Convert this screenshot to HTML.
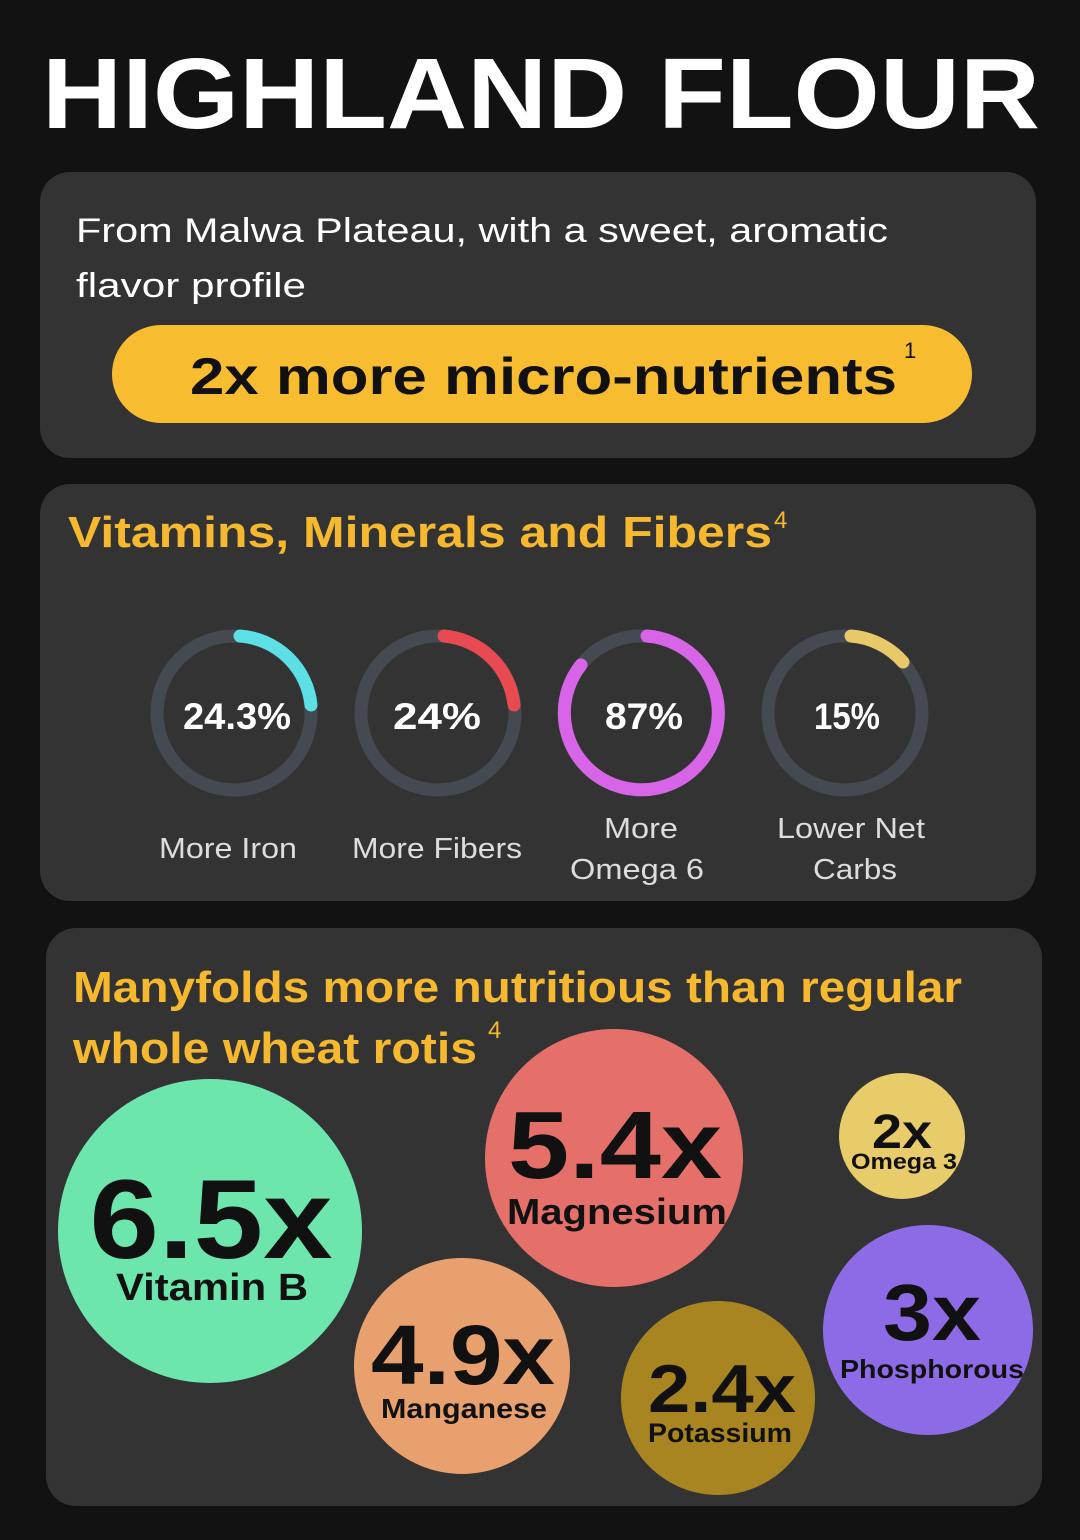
<!DOCTYPE html>
<html><head><meta charset="utf-8"><style>
html,body{margin:0;padding:0;background:#121212;}
svg{display:block;}
text{font-family:"Liberation Sans",sans-serif;}
</style></head><body>
<svg width="1080" height="1540" viewBox="0 0 1080 1540" xmlns="http://www.w3.org/2000/svg">
<rect width="1080" height="1540" fill="#121212"/>
<text x="42" y="128" font-size="100" font-weight="bold" fill="#fff" textLength="998" lengthAdjust="spacingAndGlyphs">HIGHLAND FLOUR</text>

<rect x="40" y="172" width="996" height="286" rx="30" fill="#333333"/>
<text x="76" y="242" font-size="34" fill="#fff" textLength="812" lengthAdjust="spacingAndGlyphs">From Malwa Plateau, with a sweet, aromatic</text>
<text x="76" y="297" font-size="34" fill="#fff" textLength="230" lengthAdjust="spacingAndGlyphs">flavor profile</text>
<rect x="112" y="325" width="860" height="98" rx="49" fill="#F8BC30"/>
<text x="190" y="394" font-size="52" font-weight="bold" fill="#111" textLength="707" lengthAdjust="spacingAndGlyphs">2x more micro-nutrients</text>
<text x="904" y="358" font-size="22" fill="#111">1</text>

<rect x="40" y="484" width="996" height="417" rx="30" fill="#333333"/>
<text x="68" y="547" font-size="44" font-weight="bold" fill="#F5B82E" textLength="704" lengthAdjust="spacingAndGlyphs">Vitamins, Minerals and Fibers</text>
<text x="774" y="528" font-size="24" fill="#F5B82E">4</text>

<g fill="none" stroke-width="13" stroke-linecap="round">
<circle cx="234" cy="713" r="77" stroke="#454A52"/>
<path d="M240 636 A77 77 0 0 1 311 705" stroke="#5CE0E6"/>
<circle cx="438" cy="713" r="77" stroke="#454A52"/>
<path d="M444 636 A77 77 0 0 1 514 705" stroke="#E84A52"/>
<circle cx="641" cy="713" r="77" stroke="#454A52"/>
<path d="M647 636 A77 77 0 1 1 581 665" stroke="#D865E8"/>
<circle cx="845" cy="713" r="77" stroke="#454A52"/>
<path d="M851 636 A77 77 0 0 1 903 662" stroke="#E8C96A"/>
</g>
<g font-size="37" font-weight="bold" fill="#fff" text-anchor="middle">
<text x="237" y="729" textLength="108" lengthAdjust="spacingAndGlyphs">24.3%</text>
<text x="437" y="729" textLength="88" lengthAdjust="spacingAndGlyphs">24%</text>
<text x="644" y="729" textLength="78" lengthAdjust="spacingAndGlyphs">87%</text>
<text x="847" y="729" textLength="66" lengthAdjust="spacingAndGlyphs">15%</text>
</g>
<g font-size="29" fill="#ddd" text-anchor="middle">
<text x="228" y="858" textLength="138" lengthAdjust="spacingAndGlyphs">More Iron</text>
<text x="437" y="858" textLength="170" lengthAdjust="spacingAndGlyphs">More Fibers</text>
<text x="641" y="838" textLength="74" lengthAdjust="spacingAndGlyphs">More</text>
<text x="637" y="879" textLength="134" lengthAdjust="spacingAndGlyphs">Omega 6</text>
<text x="851" y="838" textLength="148" lengthAdjust="spacingAndGlyphs">Lower Net</text>
<text x="855" y="879" textLength="84" lengthAdjust="spacingAndGlyphs">Carbs</text>
</g>

<rect x="46" y="928" width="996" height="578" rx="30" fill="#333333"/>
<text x="73" y="1002" font-size="44" font-weight="bold" fill="#F5B82E" textLength="889" lengthAdjust="spacingAndGlyphs">Manyfolds more nutritious than regular</text>
<text x="73" y="1063" font-size="44" font-weight="bold" fill="#F5B82E" textLength="404" lengthAdjust="spacingAndGlyphs">whole wheat rotis</text>
<text x="488" y="1038" font-size="24" fill="#F5B82E">4</text>

<circle cx="210" cy="1231" r="152" fill="#6DE6AE"/>
<circle cx="614" cy="1158" r="129" fill="#E5706A"/>
<circle cx="902" cy="1136" r="63" fill="#E8CC6A"/>
<circle cx="462" cy="1366" r="108" fill="#E8A06E"/>
<circle cx="718" cy="1398" r="97" fill="#A88520"/>
<circle cx="928" cy="1330" r="105" fill="#8E6BE6"/>
<g font-weight="bold" fill="#111" text-anchor="middle">
<text x="211" y="1258" font-size="112" textLength="243" lengthAdjust="spacingAndGlyphs">6.5x</text>
<text x="212" y="1300" font-size="38" textLength="192" lengthAdjust="spacingAndGlyphs">Vitamin B</text>
<text x="615" y="1178" font-size="96" textLength="214" lengthAdjust="spacingAndGlyphs">5.4x</text>
<text x="617" y="1224" font-size="36" textLength="220" lengthAdjust="spacingAndGlyphs">Magnesium</text>
<text x="902" y="1148" font-size="48" textLength="60" lengthAdjust="spacingAndGlyphs">2x</text>
<text x="904" y="1169" font-size="22" textLength="106" lengthAdjust="spacingAndGlyphs">Omega 3</text>
<text x="463" y="1384" font-size="84" textLength="184" lengthAdjust="spacingAndGlyphs">4.9x</text>
<text x="464" y="1418" font-size="28" textLength="166" lengthAdjust="spacingAndGlyphs">Manganese</text>
<text x="722" y="1412" font-size="68" textLength="148" lengthAdjust="spacingAndGlyphs">2.4x</text>
<text x="720" y="1442" font-size="27" textLength="144" lengthAdjust="spacingAndGlyphs">Potassium</text>
<text x="932" y="1340" font-size="80" textLength="98" lengthAdjust="spacingAndGlyphs">3x</text>
<text x="932" y="1378" font-size="26" textLength="184" lengthAdjust="spacingAndGlyphs">Phosphorous</text>
</g>
</svg>
</body></html>
